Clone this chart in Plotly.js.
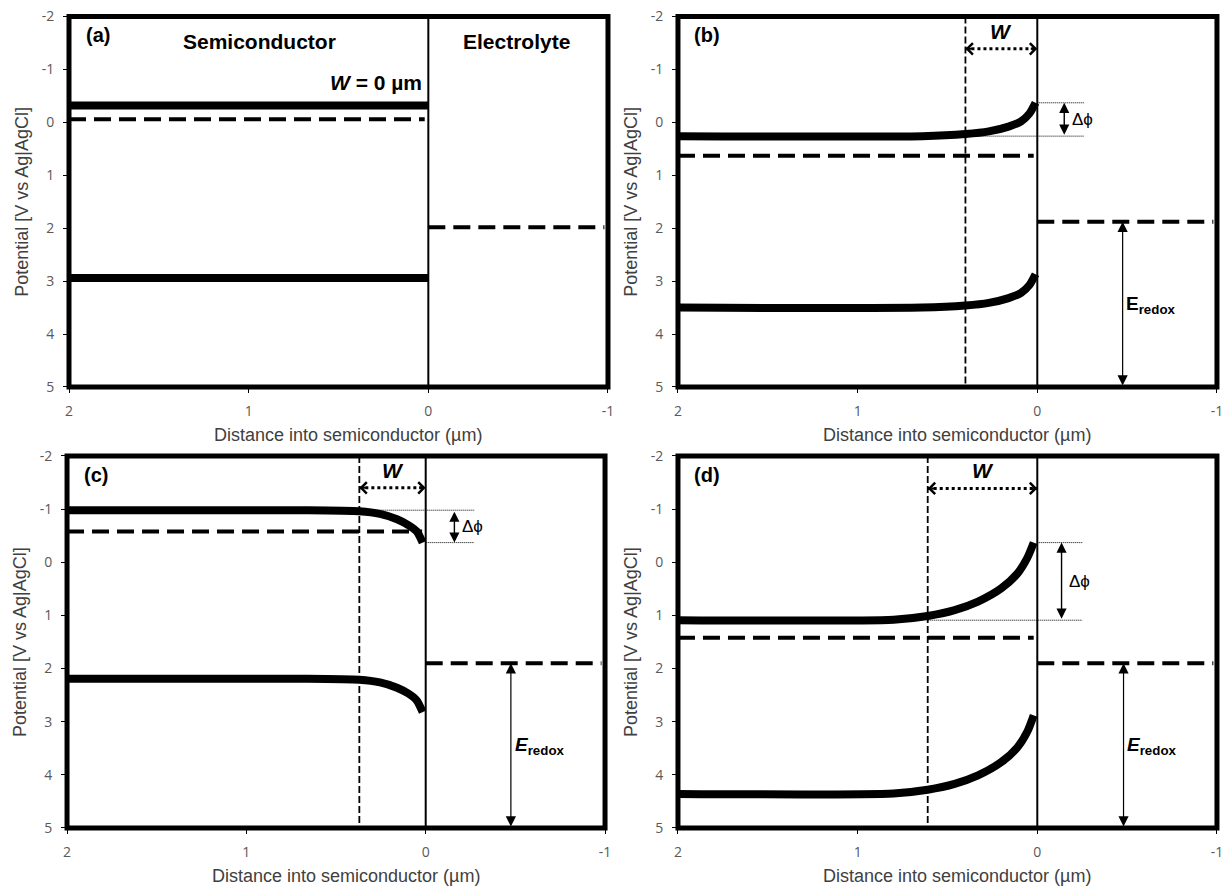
<!DOCTYPE html>
<html><head><meta charset="utf-8">
<script src="https://cdn.plot.ly/plotly-3.0.1.min.js"></script>
<style>html,body{margin:0;padding:0;background:#fff}#chart{width:1230px;height:888px}</style>
</head><body><div id="chart"></div>
<script>
// ---------------- data ----------------
const xTicks = [2, 1, 0, -1];
const xTickText = ['2', '1', '0', '-1'];
const yTicks = [-2, -1, 0, 1, 2, 3, 4, 5];
const yTickText = ['-2', '-1', '0', '1', '2', '3', '4', '5'];
const xRange = [2, -1];
const yRange = [5, -2];
const panelLetters = ['(a)', '(b)', '(c)', '(d)'];
const xTitle = 'Distance into semiconductor (µm)';
const yTitle = 'Potential [V vs Ag|AgCl]';

// band-edge profiles (x = distance into semiconductor, µm)
const aX  = [2, 0];
const aCB = [-0.32, -0.32];
const aVB = [2.94, 2.94];

const bX  = [2, 0.64, 0.40, 0.27, 0.16, 0.09, 0.043, 0.01];
const bCB = [0.26, 0.26, 0.22, 0.17, 0.08, -0.02, -0.17, -0.37];
const bVB = [3.50, 3.50, 3.46, 3.41, 3.32, 3.22, 3.07, 2.87];

const cX  = [2, 0.70, 0.37, 0.255, 0.16, 0.097, 0.05, 0.017];
const cCB = [-0.98, -0.98, -0.96, -0.91, -0.81, -0.70, -0.58, -0.37];
const cVB = [2.19, 2.19, 2.21, 2.26, 2.36, 2.47, 2.60, 2.82];

const dX  = [2, 0.80, 0.61, 0.46, 0.33, 0.20, 0.11, 0.056, 0.02];
const dCB = [1.09, 1.08, 1.01, 0.90, 0.74, 0.49, 0.21, -0.08, -0.37];
const dVB = [4.36, 4.35, 4.28, 4.17, 4.01, 3.76, 3.48, 3.19, 2.88];

// levels per panel (a..d)
const fermiLevel   = [-0.06, 0.63, -0.58, 1.42];
const redoxLevel   = [1.98, 1.88, 1.90, 1.90];
const depletionW   = [0, 0.40, 0.37, 0.61];
const fermiSpanX   = [2, 0.02];
const redoxSpanX   = [0, -0.98];
const interfaceX   = [0, 0];
const interfaceY   = [-2, 5];
const wArrowY      = [null, -1.39, -1.40, -1.39];
const dphiArrowX   = [null, -0.15, -0.16, -0.135];
const dphiLineEnd  = [null, -0.26, -0.27, -0.25];
const eredoxArrowX = [null, -0.475, -0.475, -0.48];

const bandX  = [aX, bX, cX, dX];
const bandCB = [aCB, bCB, cCB, dCB];
const bandVB = [aVB, bVB, cVB, dVB];

// ---------------- layout helpers ----------------
const suffix = ['', '2', '3', '4'];
const xDomains = [[0.0561, 0.4943], [0.5512, 0.9894], [0.0545, 0.4919], [0.5512, 0.9894]];
const yDomains = [[0.5642, 0.9814], [0.5642, 0.9814], [0.0676, 0.4865], [0.0676, 0.4865]];

const ARIAL = 'Arial, "Liberation Sans", sans-serif';
const TICKFONT = {family: '"Open Sans", "Liberation Sans", sans-serif', size: 14, color: '#595959'};
const TITLEFONT = {family: ARIAL, size: 18, color: '#404040'};
const LABELFONT = {family: ARIAL, size: 21, color: '#000'};

const traces = [];
const annotations = [];
const shapes = [];
const layout = {
  width: 1230, height: 888,
  margin: {l: 0, r: 0, t: 0, b: 0},
  paper_bgcolor: '#fff', plot_bgcolor: '#fff',
  showlegend: false,
  annotations: annotations, shapes: shapes
};

for (let i = 0; i < 4; i++) {
  const s = suffix[i];
  const xa = 'x' + s, ya = 'y' + s;
  layout['xaxis' + s] = {
    domain: xDomains[i], anchor: ya, range: xRange,
    tickvals: xTicks, ticktext: xTickText,
    ticks: 'outside', ticklen: 5, tickwidth: 1, tickcolor: '#000',
    showgrid: false, zeroline: false, showline: false,
    tickfont: TICKFONT, ticklabelstandoff: 6,
    automargin: false, fixedrange: true
  };
  layout['yaxis' + s] = {
    domain: yDomains[i], anchor: xa, range: yRange,
    tickvals: yTicks, ticktext: yTickText,
    ticks: 'outside', ticklen: 5, tickwidth: 1, tickcolor: '#000',
    showgrid: false, zeroline: false, showline: false,
    tickfont: TICKFONT, ticklabelstandoff: 6,
    automargin: false, fixedrange: true
  };
  // axis titles (placed like the original, slightly right of centre)
  annotations.push({xref: xa + ' domain', yref: ya + ' domain', x: 0.518, y: 0,
    yshift: -48, yanchor: 'middle', xanchor: 'center', text: xTitle,
    showarrow: false, font: TITLEFONT});
  annotations.push({xref: xa + ' domain', yref: ya + ' domain', x: 0, y: 0.5,
    xshift: -47, xanchor: 'center', yanchor: 'middle', textangle: -90, text: yTitle,
    showarrow: false, font: TITLEFONT});
  // frame
  shapes.push({type: 'rect', xref: xa + ' domain', yref: ya + ' domain',
    x0: 0, x1: 1, y0: 0, y1: 1, line: {color: '#000', width: 5}, layer: 'above'});

  const W = depletionW[i];
  const xs = bandX[i], cb = bandCB[i], vb = bandVB[i];
  const cbSurf = cb[cb.length - 1], cbFlat = cb[0];
  const base = {xaxis: xa, yaxis: ya, mode: 'lines', hoverinfo: 'skip', showlegend: false};

  if (W > 0) {
    traces.push(Object.assign({}, base, {x: [W, W], y: interfaceY,
      line: {color: '#000', width: 1.8, dash: '7px,3px'}}));
    // Δφ guide lines
    traces.push(Object.assign({}, base, {x: [0, dphiLineEnd[i]], y: [cbSurf, cbSurf],
      line: {color: '#000', width: 1, dash: '1px,1px'}}));
    traces.push(Object.assign({}, base, {x: [W, dphiLineEnd[i]], y: [cbFlat, cbFlat],
      line: {color: '#000', width: 1, dash: '1px,1px'}}));
    // W dotted shaft
    traces.push(Object.assign({}, base, {x: [W, 0], y: [wArrowY[i], wArrowY[i]],
      line: {color: '#000', width: 3, dash: '3px,3px'}}));
  }
  // Fermi level (semiconductor) and redox level (electrolyte)
  traces.push(Object.assign({}, base, {x: fermiSpanX, y: [fermiLevel[i], fermiLevel[i]],
    line: {color: '#000', width: 4, dash: '17px,8px'}}));
  traces.push(Object.assign({}, base, {x: redoxSpanX, y: [redoxLevel[i], redoxLevel[i]],
    line: {color: '#000', width: 4, dash: '17px,8px'}}));
  // band edges
  traces.push(Object.assign({}, base, {x: xs, y: cb,
    line: {color: '#000', width: 8, shape: W > 0 ? 'spline' : 'linear', smoothing: 0.7}}));
  traces.push(Object.assign({}, base, {x: xs, y: vb,
    line: {color: '#000', width: 8, shape: W > 0 ? 'spline' : 'linear', smoothing: 0.7}}));
  // interface
  traces.push(Object.assign({}, base, {x: interfaceX, y: interfaceY,
    line: {color: '#000', width: 2}}));

  // panel letter
  annotations.push({xref: xa, yref: ya, x: 1.84, y: -1.65, text: '<b>' + panelLetters[i] + '</b>',
    showarrow: false, font: {family: ARIAL, size: 20, color: '#000'}});

  if (i === 0) {
    annotations.push({xref: xa, yref: ya, x: 0.94, y: -1.52, text: '<b>Semiconductor</b>',
      showarrow: false, font: LABELFONT});
    annotations.push({xref: xa, yref: ya, x: -0.49, y: -1.52, text: '<b>Electrolyte</b>',
      showarrow: false, font: LABELFONT});
    annotations.push({xref: xa, yref: ya, x: 0.025, y: -0.75, xanchor: 'right',
      text: '<b><i>W</i> = 0 µm</b>', showarrow: false, font: LABELFONT});
  } else {
    const wy = wArrowY[i];
    // W arrow heads
    annotations.push({xref: xa, yref: ya, x: W, y: wy, ax: 8, ay: 0, text: '',
      showarrow: true, arrowhead: 4, arrowsize: 1.1, arrowwidth: 2, arrowcolor: '#000'});
    annotations.push({xref: xa, yref: ya, x: 0, y: wy, ax: -8, ay: 0, text: '',
      showarrow: true, arrowhead: 4, arrowsize: 1.1, arrowwidth: 2, arrowcolor: '#000'});
    annotations.push({xref: xa, yref: ya, x: W / 2, y: -1.72, text: '<b><i>W</i></b>',
      showarrow: false, font: LABELFONT});
    // Δφ arrow
    annotations.push({xref: xa, yref: ya, axref: xa, ayref: ya,
      x: dphiArrowX[i], y: cbSurf, ax: dphiArrowX[i], ay: cbFlat, text: '',
      showarrow: true, arrowside: 'end+start', arrowhead: 2, arrowsize: 1.45, arrowwidth: 1.4,
      arrowcolor: '#000'});
    annotations.push({xref: xa, yref: ya, x: dphiArrowX[i] - 0.1, y: (cbSurf + cbFlat) / 2,
      text: 'Δϕ', showarrow: false, font: {family: ARIAL, size: 17, color: '#000'}});
    // E_redox arrow
    annotations.push({xref: xa, yref: ya, axref: xa, ayref: ya,
      x: eredoxArrowX[i], y: redoxLevel[i], ax: eredoxArrowX[i], ay: interfaceY[1], text: '',
      showarrow: true, arrowside: 'end+start', arrowhead: 2, arrowsize: 1.7, arrowwidth: 1.2,
      arrowcolor: '#000'});
    const eTxt = i === 1 ? '<b>E</b><sub><b>redox</b></sub>' : '<b><i>E</i></b><sub><b>redox</b></sub>';
    annotations.push({xref: xa, yref: ya, x: eredoxArrowX[i] - 0.16, y: 3.45, text: eTxt,
      showarrow: false, font: {family: ARIAL, size: 19, color: '#000'}});
  }
}

Plotly.newPlot('chart', traces, layout, {staticPlot: true, displayModeBar: false});
</script></body></html>
